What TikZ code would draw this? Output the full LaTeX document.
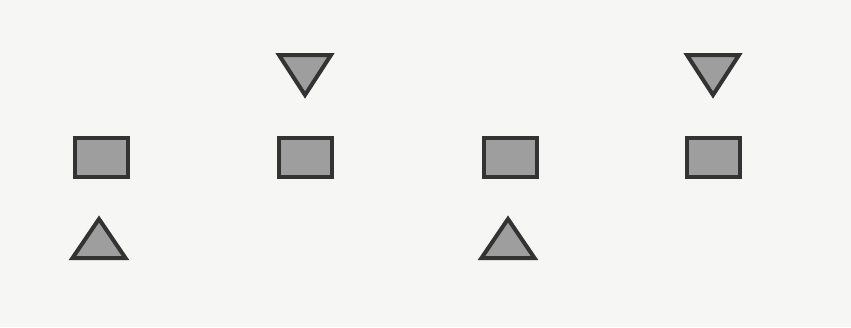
\documentclass[tikz,border=0pt]{standalone}
\usetikzlibrary{calc}

\definecolor{markgray}{RGB}{158,158,158}
\definecolor{paper}{RGB}{246,246,244}
\tikzset{
  markshape/.style={draw=black!80, line width=0.08cm, fill=markgray},
}

\begin{document}
\begin{tikzpicture}
    % paper background
    \fill[paper] (0,0) rectangle (17.02,6.54);
    \useasboundingbox (0,0) rectangle (17.02,6.54);

    % middle row: squares
    \foreach \x in {2.02,6.10,10.20,14.26}
        \draw[markshape] (\x-0.53,3.01) rectangle (\x+0.53,3.79);

    % top row: triangles pointing down
    \foreach \x in {6.10,14.26}
        \draw[markshape] (\x-0.52,5.44) -- (\x+0.52,5.44) -- (\x,4.64) -- cycle;

    % bottom row: triangles pointing up
    \foreach \x in {1.98,10.16}
        \draw[markshape] (\x-0.53,1.38) -- (\x+0.53,1.38) -- (\x,2.16) -- cycle;
\end{tikzpicture}
\end{document}
